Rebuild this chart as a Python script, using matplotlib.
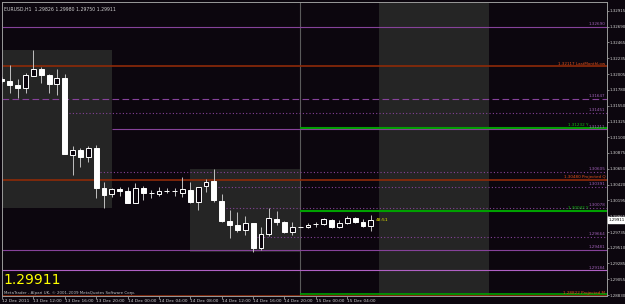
import matplotlib
matplotlib.use("Agg")
import matplotlib.pyplot as plt
import matplotlib.transforms as mtransforms
import numpy as np

# EURUSD H1 bars, 13 Dec 08:00 .. 15 Dec 07:00
opens = [1.31937, 1.31908, 1.31851, 1.31808, 1.31980, 1.32081, 1.31995, 1.31865,
         1.31952, 1.30844, 1.30916, 1.30816, 1.30945, 1.30370, 1.30283, 1.30355,
         1.30327, 1.30154, 1.30370, 1.30298, 1.30283, 1.30327, 1.30327, 1.30298,
         1.30341, 1.30168, 1.30398, 1.30470, 1.30183, 1.29895, 1.29838, 1.29766,
         1.29866, 1.29507, 1.29708, 1.29924, 1.29881, 1.29737, 1.29809, 1.29809,
         1.29852, 1.29852, 1.29910, 1.29809, 1.29866, 1.29938, 1.29881, 1.29826]
highs = [1.31966, 1.32139, 1.31937, 1.32023, 1.32354, 1.32110, 1.32009, 1.32081,
         1.32009, 1.30974, 1.30945, 1.30974, 1.30988, 1.30456, 1.30370, 1.30384,
         1.30384, 1.30442, 1.30398, 1.30341, 1.30384, 1.30370, 1.30370, 1.30528,
         1.30456, 1.30384, 1.30499, 1.30643, 1.30283, 1.30053, 1.30025, 1.29967,
         1.29866, 1.29809, 1.30082, 1.30039, 1.29895, 1.29881, 1.29815, 1.29866,
         1.29881, 1.29938, 1.29924, 1.29910, 1.29967, 1.29953, 1.29924, 1.29980]
lows = [1.31880, 1.31736, 1.31664, 1.31736, 1.31980, 1.31880, 1.31736, 1.31707,
        1.30859, 1.30557, 1.30672, 1.30744, 1.30226, 1.30082, 1.30240, 1.30255,
        1.30154, 1.30154, 1.30197, 1.30226, 1.30255, 1.30298, 1.30255, 1.30240,
        1.30154, 1.30053, 1.30312, 1.30168, 1.29881, 1.29651, 1.29737, 1.29694,
        1.29449, 1.29478, 1.29680, 1.29838, 1.29723, 1.29694, 1.29803, 1.29795,
        1.29809, 1.29838, 1.29795, 1.29795, 1.29852, 1.29866, 1.29809, 1.29750]
closes = [1.31908, 1.31851, 1.31808, 1.31995, 1.32081, 1.31995, 1.31865, 1.31952,
          1.30859, 1.30916, 1.30816, 1.30945, 1.30370, 1.30269, 1.30355, 1.30327,
          1.30154, 1.30370, 1.30298, 1.30298, 1.30327, 1.30327, 1.30327, 1.30355,
          1.30168, 1.30384, 1.30456, 1.30197, 1.29895, 1.29838, 1.29766, 1.29866,
          1.29507, 1.29708, 1.29938, 1.29881, 1.29737, 1.29809, 1.29809, 1.29838,
          1.29852, 1.29924, 1.29809, 1.29866, 1.29938, 1.29881, 1.29823, 1.29911]

time_labels = ["12 Dec 2011", "13 Dec 12:00", "13 Dec 16:00", "13 Dec 20:00",
               "14 Dec 00:00", "14 Dec 04:00", "14 Dec 08:00", "14 Dec 12:00",
               "14 Dec 16:00", "14 Dec 20:00", "15 Dec 00:00", "15 Dec 04:00"]

price_ticks = [1.32915, 1.32690, 1.32465, 1.32235, 1.32005, 1.31780, 1.31550,
               1.31325, 1.31100, 1.30875, 1.30650, 1.30420, 1.30195, 1.29965,
               1.29735, 1.29510, 1.29285, 1.29055, 1.28830]

# horizontal levels drawn by indicators
level_prices = [1.32690, 1.32117, 1.31647, 1.31451, 1.31232, 1.31211, 1.30605,
                1.30480, 1.30391, 1.30078, 1.30042, 1.29664, 1.29481, 1.29184,
                1.28845, 1.28822]
level_texts = ["1.32690", "1.32117 LastMonthLow", "1.31647", "1.31451", "1.31232 Y",
               "1.31211", "1.30605", "1.30480 Projected Q", "1.30391", "1.30078",
               "1.30042 Y", "1.29664", "1.29481", "1.29184", "", "1.28822 Projected M"]

# session boxes (start bar, end bar)
box_start = [0, 24, 48]
box_end = [14, 38, 62]

bg = "#0c060e"
boxc = "#252525"
purple = "#86429a"
ptext = "#a060b8"
orange = "#8e2a08"
otext = "#e0501a"
green = "#00a000"
gtext = "#10c010"

# style for each level: line colour, text colour, linestyle, width, first bar, text end
dot = (0, (1, 2))
lvl_style = [
    (purple, ptext, "-", 0.8, 0, 76.9),
    (orange, otext, "-", 1.2, 0, 76.9),
    (purple, ptext, (0, (6, 3)), 0.8, 0, 76.9),
    (purple, ptext, dot, 0.8, 8.5, 76.9),
    (green, gtext, "-", 1.5, 38, 74.7),
    (purple, ptext, "-", 0.8, 14, 76.9),
    (purple, ptext, dot, 0.8, 12.5, 76.9),
    (orange, otext, "-", 1.2, 0, 76.9),
    (purple, ptext, dot, 0.8, 27.5, 76.9),
    (purple, ptext, dot, 0.8, 28.5, 76.9),
    (green, gtext, "-", 1.5, 38, 74.7),
    (purple, ptext, dot, 0.8, 32.5, 76.9),
    (purple, ptext, "-", 0.8, 0, 76.9),
    ("#b060c4", ptext, "-", 0.8, 0, 76.9),
    (green, gtext, "-", 1.2, 38, 76.9),
    (orange, otext, "-", 1.2, 0, 76.9),
]

W, H = 625, 304
fig = plt.figure(figsize=(W / 100, H / 100), dpi=100, facecolor=bg)
ax = fig.add_axes([2 / W, 8 / H, 605 / W, 294 / H], facecolor=bg)

xmin, xmax = 0.08, 77.1
ymin, ymax = 1.28817, 1.33044
ax.set_xlim(xmin, xmax)
ax.set_ylim(ymin, ymax)

# session rectangles
for s, e in zip(box_start, box_end):
    if s < len(highs):
        top, bot = max(highs[s:e]), min(lows[s:e])
    else:
        top, bot = ymax, ymin
    ax.fill_between([s, e], bot, top, color=boxc, lw=0, zorder=0)

# period separator
ax.axvline(38, color="#5a5a5a", lw=0.8, zorder=1)

# levels
for p, t, st in zip(level_prices, level_texts, lvl_style):
    c, tc, ls, lw, x0, xt = st
    ax.hlines(p, x0, xmax, colors=c, linestyles=ls, lw=lw, zorder=2)
    if t:
        ax.text(xt, p + 0.00012, t, color=tc, fontsize=3.0, ha="right",
                va="bottom", zorder=5)

# candles
x = np.arange(len(opens))
o = np.array(opens)
c = np.array(closes)
ax.vlines(x, lows, highs, colors="#c0c0c0", lw=0.7, zorder=3)
bull = c >= o
ax.bar(x[bull], (c - o)[bull], bottom=o[bull], width=0.62, color=bg,
       edgecolor="white", lw=0.7, zorder=4)
ax.bar(x[~bull], (o - c)[~bull], bottom=c[~bull], width=0.62, color="white",
       edgecolor="white", lw=0.7, zorder=4)

# candle timer
ax.text(len(opens) - 0.4, closes[-1], "48:51", color="#e8e800", fontsize=3.2,
        va="center", ha="left", zorder=6)

# axes styling
for sp in ax.spines.values():
    sp.set_color("#9a9a9a")
    sp.set_linewidth(0.7)
ax.yaxis.tick_right()
ax.set_yticks(price_ticks)
ax.set_yticklabels([f"{v:.5f}" for v in price_ticks])
ax.tick_params(axis="y", colors="#9a9a9a", labelcolor="#d0d0d0", length=1.5,
               width=0.6, labelsize=2.9, pad=0.6)
ax.set_xticks(np.arange(0, 4 * len(time_labels), 4))
ax.set_xticklabels(time_labels)
ax.tick_params(axis="x", colors="#9a9a9a", labelcolor="#d0d0d0", length=2,
               width=0.6, labelsize=3.1, pad=0.5)
for lab in ax.get_xticklabels():
    lab.set_horizontalalignment("left")

# current price marker on the scale
tr = mtransforms.blended_transform_factory(ax.transAxes, ax.transData)
ax.text(1.003, closes[-1], f"{closes[-1]:.5f}", transform=tr, color="black",
        fontsize=2.9, va="center", ha="left", zorder=7, clip_on=False,
        bbox=dict(boxstyle="square,pad=0.15", fc="white", ec="white"))

# header and footer texts
ax.text(0.003, 0.985, "EURUSD,H1  1.29826 1.29980 1.29750 1.29911",
        transform=ax.transAxes, color="#d0d0d0", fontsize=3.3, va="top", ha="left")
ax.text(0.003, 0.03, f"{closes[-1]:.5f}", transform=ax.transAxes,
        color="#ffff00", fontsize=10, va="bottom", ha="left")
ax.text(0.003, 0.004, "MetaTrader - Alpari UK, \u00a9 2001-2009 MetaQuotes Software Corp.",
        transform=ax.transAxes, color="#c0c0c0", fontsize=2.9, va="bottom", ha="left")

fig.savefig("out.png", dpi=100, facecolor=bg)
